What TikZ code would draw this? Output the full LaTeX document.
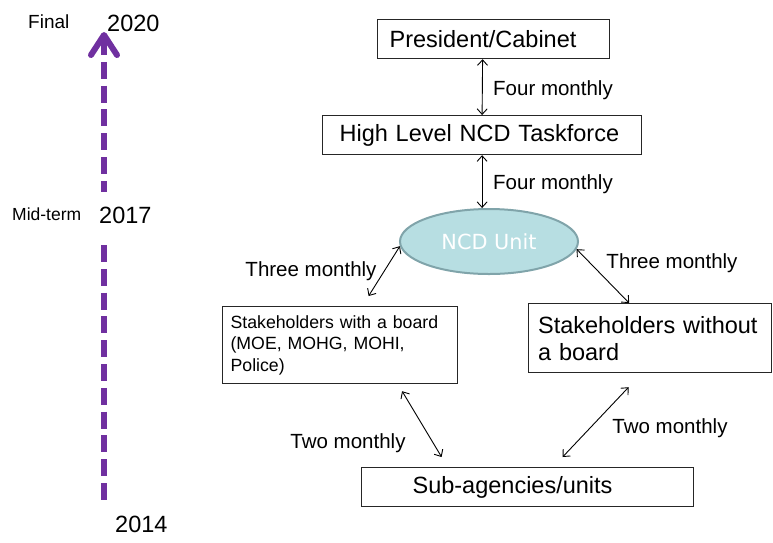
\documentclass[tikz,border=0pt]{standalone}
\usepackage{fontspec}
\setmainfont{Liberation Sans}
\newfontfamily\unitfont{DejaVu Sans}
\usetikzlibrary{arrows.meta,shapes.geometric}

\definecolor{tlpurple}{RGB}{112,48,160}
\definecolor{unitfill}{RGB}{183,222,226}
\definecolor{unitline}{RGB}{128,164,170}

\tikzset{
    box/.style={draw=black!85, line width=1.2pt, rectangle, anchor=north west, align=left,
        inner ysep=0pt, font=\fontsize{23.5}{27}\selectfont},
    lbl/.style={font=\fontsize{20.5}{24}\selectfont, inner sep=0pt},
    year/.style={anchor=west, inner sep=0pt, font=\fontsize{23.5}{27}\selectfont},
    link/.style={line width=0.9pt, {Straight Barb[length=5.5pt,width=10pt]}-{Straight Barb[length=5.5pt,width=10pt]}},
    timeline/.style={tlpurple, line width=6pt, dash pattern=on 17pt off 6.8pt},
}

\begin{document}
\begin{tikzpicture}[x=1pt, y=-1pt]
    \useasboundingbox (0,0) rectangle (773,542);

    % time line
    \node[anchor=west, inner sep=0pt, font=\fontsize{19}{22}\selectfont] (final) at (28,22) {Final};
    \node[year] (y2020) at (107,23) {2020};
    \node[anchor=west, inner sep=0pt, font=\fontsize{17.5}{21}\selectfont] (mid) at (12,214) {Mid-term};
    \node[year] (y2017) at (99,215) {2017};
    \node[year] (y2014) at (115,524) {2014};

    \coordinate (tlbot) at (104,500);
    \coordinate (tllow) at (104,245);
    \coordinate (tlhigh) at (104,192);
    \coordinate (tltop) at (104,32);
    \draw[timeline] (tllow) -- (tlbot);
    \draw[timeline, {Straight Barb[length=20pt,width=26pt,round]}-] (tltop) -- (tlhigh);

    % boxes
    \node[box, text width=208pt, inner xsep=12pt, minimum height=39pt] (pres) at (377,19) {President/Cabinet};
    \node[box, text width=285pt, inner xsep=17pt, minimum height=39pt] (tf) at (322,115) {High Level NCD Taskforce};
    \node[ellipse, draw=unitline, fill=unitfill, line width=2pt, minimum width=178pt, minimum height=65pt,
        inner sep=0pt, text=white, font=\unitfont\fontsize{20.8}{24}\selectfont] (unit) at (489,241.5) {NCD Unit};
    \node[box, text width=219pt, inner xsep=8pt, minimum height=77pt,
        font=\fontsize{17.7}{21.5}\selectfont] (with) at (222,306) {Stakeholders with a board\\(MOE, MOHG, MOHI,\\Police)};
    \node[box, text width=224pt, inner xsep=9.5pt, minimum height=69pt] (without) at (528,303) {Stakeholders without\\a board};
    \node[box, text width=230pt, inner xsep=51pt, minimum height=39pt] (sub) at (361,467) {Sub-agencies/units};

    % reporting links
    \draw[link] ([xshift=-11pt]pres.south) -- (tf.north);
    \draw[link] (tf.south) -- (tf.south |- unit.north);
    \draw[link] (unit.183) -- ([shift={(28.5,-10)}]with.north);
    \draw[link] (unit.-5) -- ([xshift=-21pt]without.north);
    \draw[link] ([shift={(62,7)}]with.south) -- ([shift={(-86,-10)}]sub.north);
    \draw[link] ([shift={(-21.5,14)}]without.south) -- ([shift={(35,-10)}]sub.north);

    \node[lbl] (four1) at (553,90) {Four monthly};
    \node[lbl] (four2) at (553,184) {Four monthly};
    \node[lbl] (three1) at (311,271) {Three monthly};
    \node[lbl] (three2) at (672,263) {Three monthly};
    \node[lbl] (two1) at (348,443) {Two monthly};
    \node[lbl] (two2) at (670,428) {Two monthly};
\end{tikzpicture}
\end{document}
